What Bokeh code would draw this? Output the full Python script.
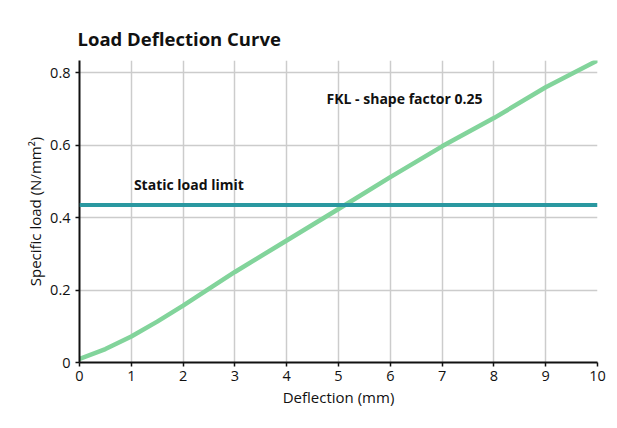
from bokeh.plotting import figure
from bokeh.models import Range1d, Span, Label, FixedTicker, BoxAnnotation
from bokeh.embed import file_html
from bokeh.resources import INLINE

deflection = [0, 0.5, 1, 1.5, 2, 3, 4, 5, 6, 7, 8, 9, 10]
load = [0.01, 0.037, 0.072, 0.113, 0.157, 0.25, 0.337, 0.424, 0.512, 0.597, 0.675, 0.76, 0.834]
static_limit = 0.435
x_ticks = [0, 1, 2, 3, 4, 5, 6, 7, 8, 9, 10]
y_ticks = [0, 0.2, 0.4, 0.6, 0.8]
title_text = "Load Deflection Curve"
series_label = "FKL - shape factor 0.25"
limit_label = "Static load limit"

FONT = "Open Sans"

p = figure(width=609, height=412, output_backend="svg", toolbar_location=None,
           x_range=Range1d(0, 10), y_range=Range1d(0, 0.834),
           frame_width=518, frame_height=302,
           min_border_left=79, min_border_right=12, min_border_top=60, min_border_bottom=50,
           title=title_text)

p.title.text_font = FONT
p.title.text_font_size = "18.5px"
p.title.text_font_style = "bold"
p.title.text_color = "#111111"
p.title.align = "left"
p.title.offset = -2
p.title.standoff = 19

p.outline_line_color = None
p.background_fill_color = "white"
p.border_fill_color = "white"

for ax in (p.xaxis[0], p.yaxis[0]):
    ax.axis_line_color = "#111111"
    ax.axis_line_width = 2
    ax.major_tick_line_color = "#111111"
    ax.major_tick_line_width = 1.5
    ax.major_tick_out = 4
    ax.major_tick_in = 0
    ax.minor_tick_line_color = None
    ax.major_label_text_font = FONT
    ax.major_label_text_font_size = "14.5px"
    ax.major_label_text_color = "#111111"
    ax.axis_label_text_font = FONT
    ax.axis_label_text_font_size = "15px"
    ax.axis_label_text_font_style = "normal"
    ax.axis_label_text_color = "#111111"

p.xaxis.ticker = FixedTicker(ticks=x_ticks)
p.yaxis.ticker = FixedTicker(ticks=y_ticks)
p.yaxis.major_label_overrides = {0: "0"}
p.xaxis.axis_label = "Deflection (mm)"
p.yaxis.axis_label = "Specific load (N/mm²)"
p.xaxis.major_label_standoff = 4
p.yaxis.major_label_standoff = 5
p.xaxis.axis_label_standoff = 3
p.yaxis.axis_label_standoff = 2

p.xgrid.grid_line_color = "#cccccc"
p.ygrid.grid_line_color = "#cccccc"
p.xgrid.grid_line_width = 1.5
p.ygrid.grid_line_width = 1.5

p.line(deflection, load, line_color="#82d49b", line_width=4.5, line_cap="round")
p.add_layout(Span(location=static_limit, dimension="width", line_color="#2a98a0", line_width=4))

p.add_layout(Label(x=4.77, y=0.703, text=series_label, text_font=FONT, text_font_size="14px",
                   text_font_style="bold", text_color="#111111"))
p.add_layout(Label(x=1.05, y=0.466, text=limit_label, text_font=FONT, text_font_size="14px",
                   text_font_style="bold", text_color="#111111"))

# outer card frame (screen units relative to the plot frame's bottom-left)
for l, r, t, b in [(-75, -72, 354, -60), (-75, 540, 354, 352)]:
    p.add_layout(BoxAnnotation(left=l, right=r, top=t, bottom=b,
                               left_units="screen", right_units="screen",
                               top_units="screen", bottom_units="screen",
                               fill_color="#7f7f7f", fill_alpha=1.0, line_color=None))

open("out.html", "w").write(file_html(p, INLINE))
